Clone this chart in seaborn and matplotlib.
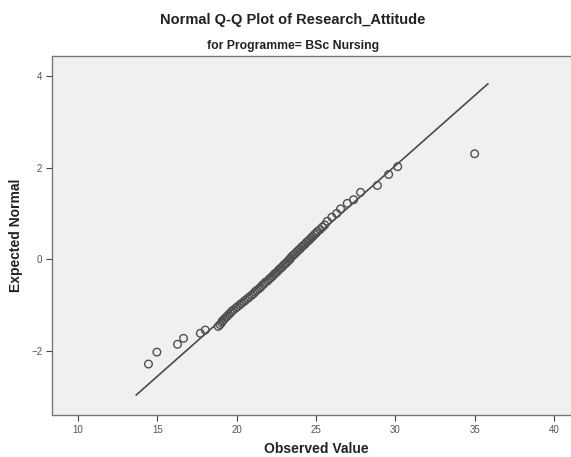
import matplotlib
matplotlib.use("Agg")
import matplotlib.pyplot as plt
import seaborn as sns
import numpy as np
import pandas as pd

# ---- data ----
observed_value = [
    14.44, 14.97, 16.27, 16.65, 17.71, 18.02, 18.84,
    18.95, 19.05, 19.10, 19.20, 19.30, 19.40, 19.50, 19.60, 19.70, 19.80,
    19.95, 20.05, 20.20, 20.30, 20.45, 20.55, 20.70, 20.80, 20.95, 21.05,
    21.15, 21.25, 21.40, 21.50, 21.60, 21.70, 21.80, 21.95, 22.05, 22.15,
    22.25, 22.35, 22.45, 22.55, 22.65, 22.75, 22.85, 22.95, 23.05, 23.15,
    23.25, 23.35, 23.40, 23.50, 23.60, 23.70, 23.80, 23.90, 24.00, 24.10,
    24.20, 24.30, 24.40, 24.50, 24.60, 24.70, 24.80, 24.90, 25.00, 25.10,
    25.25, 25.40, 25.55, 25.71, 26.00, 26.30, 26.55, 26.97, 27.37,
    27.81, 28.87, 29.58, 30.15, 35.00,
]
expected_normal = [
    -2.28, -2.02, -1.85, -1.72, -1.61, -1.54, -1.46,
    -1.42, -1.38, -1.34, -1.31, -1.27, -1.24, -1.20, -1.17, -1.13, -1.10,
    -1.06, -1.03, -0.99, -0.96, -0.92, -0.89, -0.85, -0.82, -0.78, -0.75,
    -0.71, -0.68, -0.64, -0.61, -0.57, -0.54, -0.50, -0.47, -0.43, -0.40,
    -0.37, -0.33, -0.30, -0.27, -0.23, -0.20, -0.17, -0.13, -0.10, -0.07,
    -0.03, 0.00, 0.03, 0.07, 0.10, 0.13, 0.17, 0.20, 0.23, 0.27,
    0.30, 0.33, 0.37, 0.40, 0.43, 0.47, 0.50, 0.54, 0.57, 0.61,
    0.65, 0.70, 0.75, 0.83, 0.92, 1.00, 1.10, 1.22, 1.30,
    1.46, 1.61, 1.85, 2.02, 2.30,
]
line_mean = 23.33
line_sd = 3.27
line_x = [13.66, 35.84]

x_ticks = [10, 15, 20, 25, 30, 35, 40]
y_ticks = [-2, 0, 2, 4]

title = "Normal Q-Q Plot of Research_Attitude"
subtitle = "for Programme= BSc Nursing"
x_label = "Observed Value"
y_label = "Expected Normal"

# ---- figure ----
sns.set_style("white")
plt.rcParams["font.family"] = ["Liberation Sans", "DejaVu Sans"]

W, H = 571, 457
fig = plt.figure(figsize=(W / 100, H / 100), dpi=100)
left, right, top, bottom = 52, 580, 56, 415
ax = fig.add_axes([left / W, 1 - bottom / H, (right - left) / W, (bottom - top) / H])
ax.set_facecolor("#f0f0f0")

pts = pd.DataFrame({"obs": observed_value, "exp": expected_normal})
line_df = pd.DataFrame({"x": line_x,
                        "y": [(v - line_mean) / line_sd for v in line_x]})

sns.lineplot(data=line_df, x="x", y="y", ax=ax, color="#4a4a4a", linewidth=1.2)
sns.scatterplot(data=pts, x="obs", y="exp", ax=ax, marker="o", s=30,
                facecolors="none", edgecolor="#505050", linewidth=1.0, zorder=3)

ax.set_xlim(8.36, 41.64)
ax.set_ylim(-3.39, 4.43)
ax.set_xticks(x_ticks)
ax.set_yticks(y_ticks)
ax.tick_params(axis="both", direction="out", length=4, width=0.8,
               color="#444444", labelsize=7, labelcolor="#555555", pad=3,
               bottom=True, left=True)

for s in ["left", "bottom", "top"]:
    ax.spines[s].set_color("#777777")
    ax.spines[s].set_linewidth(1.0)
ax.spines["right"].set_visible(False)

ax.set_xlabel(x_label, fontsize=10, fontweight="bold", color="#222222", labelpad=5)
ax.set_ylabel(y_label, fontsize=10, fontweight="bold", color="#222222", labelpad=6)

fig.text(293 / W, 1 - 20 / H, title, ha="center", va="center",
         fontsize=10.5, fontweight="bold", color="#222222")
fig.text(293 / W, 1 - 46 / H, subtitle, ha="center", va="center",
         fontsize=8.8, fontweight="bold", color="#222222")

fig.savefig("out.png", dpi=100)
